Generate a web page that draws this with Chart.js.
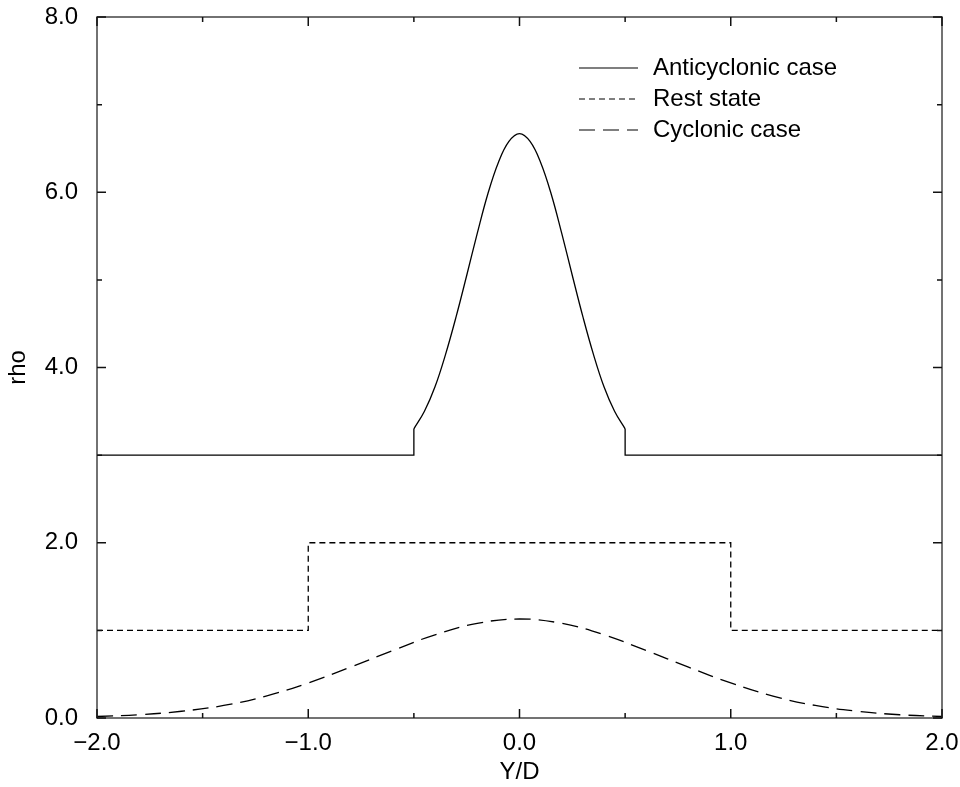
<!DOCTYPE html>
<html>
<head>
<meta charset="utf-8">
<script src="https://cdn.jsdelivr.net/npm/chart.js@4.4.0/dist/chart.umd.min.js"></script>
<style>
  html, body { margin: 0; padding: 0; background: #fff; }
  #wrap { width: 960px; height: 787px; }
</style>
</head>
<body>
<div id="wrap"><canvas id="rhoChart"></canvas></div>
<script>
// ---- data ----
const antiPeakX = [-0.5, -0.45, -0.4, -0.35, -0.3, -0.25, -0.2, -0.15, -0.1, -0.05, 0,
                   0.05, 0.1, 0.15, 0.2, 0.25, 0.3, 0.35, 0.4, 0.45, 0.5];
const antiPeakY = [3.30, 3.50, 3.78, 4.15, 4.58, 5.05, 5.53, 5.98, 6.34, 6.58, 6.67,
                   6.58, 6.34, 5.98, 5.53, 5.05, 4.58, 4.15, 3.78, 3.50, 3.30];
const antiLeftX = [-2.0, -0.5, -0.5];
const antiLeftY = [3.0, 3.0, 3.30];
const antiRightX = [0.5, 0.5, 2.0];
const antiRightY = [3.30, 3.0, 3.0];

const restX = [-2.0, -1.0, -1.0, 1.0, 1.0, 2.0];
const restY = [1.0, 1.0, 2.0, 2.0, 1.0, 1.0];

const cycX = [-2.0, -1.8, -1.6, -1.4, -1.2, -1.0, -0.8, -0.6, -0.4, -0.2, 0,
              0.2, 0.4, 0.6, 0.8, 1.0, 1.2, 1.4, 1.6, 1.8, 2.0];
const cycY = [0.017, 0.037, 0.077, 0.143, 0.25, 0.40, 0.58, 0.77, 0.95, 1.08, 1.13,
              1.08, 0.95, 0.77, 0.58, 0.40, 0.25, 0.143, 0.077, 0.037, 0.017];

const xMajor = [-2, -1, 0, 1, 2];
const xMinor = [-1.5, -0.5, 0.5, 1.5];
const yMajor = [0, 2, 4, 6, 8];
const yMinor = [1, 3, 5, 7];

const legendLabels = ['Anticyclonic case', 'Rest state', 'Cyclonic case'];

const pts = (xs, ys) => xs.map((x, i) => ({ x: x, y: ys[i] }));
const fmt = v => v.toFixed(1).replace('-', '\u2212');
const FONT = "'Liberation Sans', Arial, sans-serif";

// frame with inward ticks on all four sides
const framePlugin = {
  id: 'frame',
  afterDraw(chart) {
    const { ctx, chartArea: a, scales } = chart;
    ctx.save();
    ctx.strokeStyle = '#444';
    ctx.lineWidth = 1.5;
    ctx.strokeRect(a.left, a.top, a.right - a.left, a.bottom - a.top);
    ctx.strokeStyle = '#111';
    ctx.lineWidth = 1.5;
    const tick = (vals, len) => {
      vals.forEach(v => {
        const px = scales.x.getPixelForValue(v);
        ctx.beginPath();
        ctx.moveTo(px, a.bottom); ctx.lineTo(px, a.bottom - len);
        ctx.moveTo(px, a.top); ctx.lineTo(px, a.top + len);
        ctx.stroke();
      });
    };
    const ytick = (vals, len) => {
      vals.forEach(v => {
        const py = scales.y.getPixelForValue(v);
        ctx.beginPath();
        ctx.moveTo(a.left, py); ctx.lineTo(a.left + len, py);
        ctx.moveTo(a.right, py); ctx.lineTo(a.right - len, py);
        ctx.stroke();
      });
    };
    tick(xMajor, 9); tick(xMinor, 5);
    ytick(yMajor, 9); ytick(yMinor, 5);
    ctx.restore();
  }
};

// legend inside the plot, top right
const innerLegend = {
  id: 'innerLegend',
  afterDraw(chart) {
    const { ctx, chartArea: a } = chart;
    const dashes = [[], [6, 4], [16, 8]];
    ctx.save();
    ctx.font = '24px ' + FONT;
    ctx.fillStyle = '#000';
    ctx.textBaseline = 'middle';
    legendLabels.forEach((lab, i) => {
      const y = a.top + 51 + i * 31;
      const x0 = a.right - 363;
      ctx.strokeStyle = '#000';
      ctx.lineWidth = 1.2;
      ctx.setLineDash(dashes[i]);
      ctx.beginPath();
      ctx.moveTo(x0, y); ctx.lineTo(x0 + 59, y);
      ctx.stroke();
      ctx.setLineDash([]);
      ctx.fillText(lab, x0 + 74, y);
    });
    ctx.restore();
  }
};

const lineStyle = { borderColor: '#000', borderWidth: 1.3, pointRadius: 0, fill: false };

new Chart(document.getElementById('rhoChart'), {
  type: 'line',
  data: {
    datasets: [
      { label: 'Anticyclonic case', data: pts(antiPeakX, antiPeakY), tension: 0.4, ...lineStyle },
      { label: 'anti left', data: pts(antiLeftX, antiLeftY), tension: 0, ...lineStyle },
      { label: 'anti right', data: pts(antiRightX, antiRightY), tension: 0, ...lineStyle },
      { label: 'Rest state', data: pts(restX, restY), tension: 0, borderDash: [6, 4], ...lineStyle },
      { label: 'Cyclonic case', data: pts(cycX, cycY), tension: 0.4, borderDash: [16, 8], ...lineStyle }
    ]
  },
  options: {
    responsive: true,
    maintainAspectRatio: false,
    animation: false,
    layout: { padding: { left: 0, right: 18, top: 17, bottom: 0 } },
    plugins: { legend: { display: false }, tooltip: { enabled: false } },
    scales: {
      x: {
        type: 'linear', min: -2, max: 2,
        grid: { display: false },
        border: { display: false },
        ticks: { stepSize: 1, callback: v => fmt(v), color: '#000', padding: 3,
                 maxRotation: 0, font: { family: FONT, size: 24 } },
        title: { display: true, text: 'Y/D', color: '#000', padding: { top: 10, bottom: 0 },
                 font: { family: FONT, size: 24 } },
        afterFit: s => { s.height = 69; s.paddingLeft = 0; s.paddingRight = 0; }
      },
      y: {
        type: 'linear', min: 0, max: 8,
        grid: { display: false },
        border: { display: false },
        ticks: { stepSize: 2, callback: v => fmt(v), color: '#000', padding: 11,
                 font: { family: FONT, size: 24 } },
        title: { display: true, text: 'rho', color: '#000', padding: { top: 4, bottom: 0 },
                 font: { family: FONT, size: 24 } },
        afterFit: s => { s.width = 97; s.paddingTop = 0; s.paddingBottom = 0; }
      }
    }
  },
  plugins: [framePlugin, innerLegend]
});
</script>
</body>
</html>
